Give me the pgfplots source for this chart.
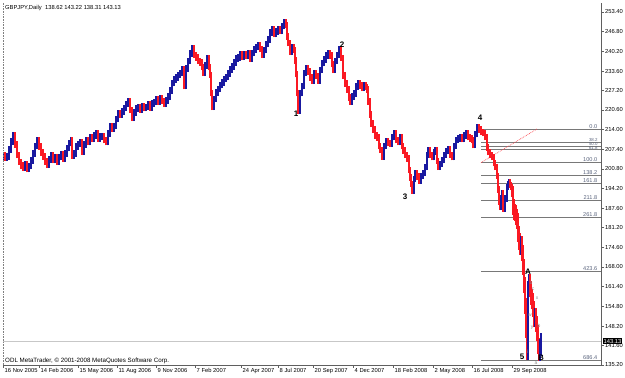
\documentclass[border=0pt]{standalone}
\usepackage{pgfplots}
\pgfplotsset{compat=1.18}
\usepackage{pgfplotstable}
\usepackage{fontspec}
\setmainfont{Liberation Sans}
\definecolor{barblue}{RGB}{25,25,160}
\definecolor{barred}{RGB}{250,25,35}
\definecolor{fibgray}{RGB}{120,120,120}
\definecolor{fibtext}{RGB}{90,100,125}
\definecolor{axgray}{RGB}{95,95,95}

\pgfplotstableread{
x o c
3 205.0 205.5
5 205.5 204.6
7 204.6 205.0
9 205.0 207.3
11 207.3 210.0
13 210.0 212.2
15 212.2 209.0
17 209.0 205.5
19 205.5 203.2
21 203.2 202.0
23 202.0 201.3
25 201.3 202.5
27 202.5 200.8
29 200.8 201.8
31 201.8 203.6
33 203.6 206.0
35 206.0 208.5
37 208.5 210.3
39 210.3 208.3
41 208.3 206.4
43 206.4 205.0
45 205.0 203.4
47 203.4 202.2
49 202.2 204.0
51 204.0 205.3
53 205.3 203.8
55 203.8 204.6
57 204.6 203.4
59 203.4 204.8
61 204.8 205.6
63 205.6 204.2
65 204.2 206.0
67 206.0 207.8
69 207.8 209.5
71 209.5 210.4
72 210.4 205.3
74 205.3 206.0
76 206.0 208.4
78 208.4 209.2
80 209.2 209.8
82 209.8 206.6
84 206.6 209.0
86 209.0 210.5
88 210.5 209.8
90 209.8 211.3
92 211.3 210.8
94 210.8 212.0
96 212.0 212.6
98 212.6 211.0
100 211.0 211.6
102 211.6 211.9
104 211.9 210.5
106 210.5 209.8
108 209.8 212.6
110 212.6 215.0
112 215.0 214.3
114 214.3 215.2
116 215.2 217.5
118 217.5 219.3
120 219.3 219.0
122 219.0 220.0
124 220.0 221.3
126 221.3 222.6
128 222.6 223.6
130 223.6 220.6
132 220.6 217.9
134 217.9 219.8
136 219.8 221.0
138 221.0 221.6
140 221.6 220.7
142 220.7 221.8
144 221.8 221.2
146 221.2 221.6
148 221.6 222.4
150 222.4 221.4
152 221.4 222.8
154 222.8 223.3
156 223.3 224.1
158 224.1 223.4
160 223.4 224.6
162 224.6 223.6
164 223.6 222.6
166 222.6 223.8
168 223.8 225.0
170 225.0 227.0
172 227.0 229.6
174 229.6 230.8
176 230.8 231.4
178 231.4 232.3
180 232.3 233.0
182 233.0 234.1
184 234.1 228.6
186 228.6 234.4
188 234.4 237.0
190 237.0 239.5
192 239.5 241.2
194 241.2 239.0
196 239.0 238.1
198 238.1 237.0
200 237.0 236.5
202 236.5 235.0
203 235.0 233.0
205 233.0 235.5
207 235.5 237.8
209 237.8 235.0
210 235.0 232.3
211 232.3 226.2
212 226.2 221.6
214 221.6 224.3
216 224.3 226.5
218 226.5 227.6
220 227.6 228.9
222 228.9 229.8
224 229.8 231.0
226 231.0 231.6
228 231.6 232.8
230 232.8 234.1
232 234.1 235.2
234 235.2 236.5
236 236.5 237.9
238 237.9 238.1
240 238.1 239.1
242 239.1 238.4
244 238.4 239.3
246 239.3 238.8
248 238.8 239.6
250 239.6 237.8
252 237.8 239.6
254 239.6 240.8
256 240.8 241.6
258 241.6 242.4
260 242.4 241.0
262 241.0 239.2
264 239.2 240.6
266 240.6 242.6
268 242.6 244.2
270 244.2 246.6
272 246.6 247.5
274 247.5 246.0
276 246.0 246.9
278 246.9 247.6
280 247.6 247.0
282 247.0 248.7
284 248.7 250.1
286 250.1 249.0
287 249.0 245.2
288 245.2 243.0
290 243.0 240.0
292 240.0 241.6
294 241.6 240.6
295 240.6 237.2
296 237.2 232.6
297 232.6 226.2
298 226.2 220.4
300 220.4 226.2
302 226.2 228.6
304 228.6 233.0
306 233.0 234.6
308 234.6 233.4
310 233.4 231.5
312 231.5 230.5
314 230.5 233.0
316 233.0 232.0
318 232.0 230.5
320 230.5 234.0
322 234.0 236.3
324 236.3 237.5
326 237.5 238.8
328 238.8 239.6
330 239.6 238.8
332 238.8 236.0
333 236.0 234.0
335 234.0 237.0
337 237.0 239.0
339 239.0 240.8
341 240.8 238.0
343 238.0 232.2
345 232.2 229.5
347 229.5 227.4
349 227.4 224.8
350 224.8 223.4
352 223.4 225.0
354 225.0 226.1
356 226.1 228.5
358 228.5 229.6
360 229.6 228.8
362 228.8 228.0
364 228.0 229.0
366 229.0 228.3
367 228.3 227.4
368 227.4 223.5
370 223.5 219.0
371 219.0 216.0
373 216.0 214.0
375 214.0 212.0
377 212.0 211.3
379 211.3 208.5
380 208.5 207.2
382 207.2 205.0
384 205.0 208.5
386 208.5 210.2
388 210.2 209.5
390 209.5 209.3
392 209.3 211.5
394 211.5 212.6
396 212.6 210.5
398 210.5 209.8
400 209.8 211.3
402 211.3 208.5
403 208.5 207.0
405 207.0 205.5
407 205.5 204.3
409 204.3 200.5
410 200.5 198.0
411 198.0 195.8
412 195.8 193.6
414 193.6 197.5
415 197.5 199.5
417 199.5 198.3
419 198.3 197.0
421 197.0 198.5
423 198.5 199.5
425 199.5 201.5
427 201.5 205.5
428 205.5 207.0
430 207.0 205.5
432 205.5 204.8
434 204.8 206.5
435 206.5 207.2
437 207.2 203.5
438 203.5 201.5
440 201.5 202.5
442 202.5 203.8
444 203.8 205.5
446 205.5 206.8
448 206.8 207.5
450 207.5 205.5
452 205.5 204.8
454 204.8 208.5
456 208.5 210.5
458 210.5 211.0
460 211.0 211.5
462 211.5 210.8
464 210.8 212.0
466 212.0 212.8
468 212.8 211.5
470 211.5 211.0
472 211.0 210.5
473 210.5 208.8
475 208.8 212.5
477 212.5 214.8
479 214.8 214.0
481 214.0 213.2
483 213.2 212.8
485 212.8 211.5
487 211.5 208.0
488 208.0 206.5
490 206.5 205.5
492 205.5 204.8
494 204.8 202.8
495 202.8 201.5
497 201.5 198.5
498 198.5 194.0
499 194.0 190.0
500 190.0 188.1
501 188.1 191.0
502 191.0 192.8
503 192.8 187.5
505 187.5 191.0
507 191.0 194.8
508 194.8 195.8
509 195.8 196.5
510 196.5 195.5
511 195.5 194.8
512 194.8 192.5
513 192.5 188.1
514 188.1 186.5
515 186.5 186.0
516 186.0 184.7
517 184.7 183.5
518 183.5 179.0
519 179.0 176.5
520 176.5 174.7
521 174.7 175.5
522 175.5 172.7
523 172.7 168.0
524 168.0 162.0
525 162.0 155.0
526 155.0 147.0
527 147.0 139.5
528 139.5 160.5
529 160.5 163.0
530 163.0 160.5
531 160.5 158.0
532 158.0 156.5
533 156.5 154.0
534 154.0 150.5
535 150.5 151.5
536 151.5 149.0
537 149.0 145.8
538 145.8 141.5
539 141.5 139.2
540 139.2 141.0
541 141.0 143.1
}\bars
\pgfplotstablecreatecol[create col/expr={min(\thisrow{o},\thisrow{c})-1.1-1.6*(\thisrow{x}>512)}]{lo}\bars
\pgfplotstablecreatecol[create col/expr={abs(\thisrow{c}-\thisrow{o})+2.2+3.2*(\thisrow{x}>512)}]{len}\bars
\pgfplotstablecreatecol[create col/expr={(\thisrow{c}>\thisrow{o})}]{d}\bars

\newcommand{\tf}{\fontsize{5.8}{6.5}\selectfont}
\newcommand{\ff}{\fontsize{5.6}{6}\selectfont}
\newcommand{\fs}{\fontsize{4.4}{5}\selectfont}

\begin{document}
\begin{tikzpicture}
\useasboundingbox (-3pt,-13pt) rectangle (622pt,365pt);
\begin{axis}[
  at={(0pt,0pt)}, anchor=south west,
  width=598pt, height=362pt, scale only axis,
  xmin=3, xmax=601, ymin=135.14, ymax=256.4,
  axis line style={draw=none},
  clip mode=individual,
  tick align=outside,
  major tick length=3pt,
  tick style={axgray, line width=0.5pt},
  ytick pos=right, yticklabel pos=right,
  xtick pos=bottom,
  ytick={135.2,141.6,148.2,154.8,161.4,168.0,174.6,181.2,187.6,194.2,200.8,207.4,214.0,220.6,227.2,233.6,240.2,246.8,253.4},
  yticklabels={135.20,141.60,148.20,154.80,161.40,168.00,174.60,181.20,187.60,194.20,200.80,207.40,214.00,220.60,227.20,233.60,240.20,246.80,253.40},
  yticklabel style={font=\tf, anchor=west, inner sep=0pt, xshift=1pt},
  xtick={3,39,78,117,156,195,241,278,313,353,393,433,472,512},
  xticklabels={16 Nov 2005,14 Feb 2006,15 May 2006,11 Aug 2006,9 Nov 2006,7 Feb 2007,24 Apr 2007,8 Jul 2007,20 Sep 2007,4 Dec 2007,18 Feb 2008,2 May 2008,16 Jul 2008,29 Sep 2008},
  xticklabel style={font=\tf, anchor=north west, inner sep=0pt, xshift=1.5pt},
  colormap={ud}{color=(barred) color=(barblue)},
]
% bid line
\addplot[black!22, line width=0.6pt] coordinates {(3,143.13) (601,143.13)};
% fibonacci levels
\pgfplotsinvokeforeach{214.2,209.89,208.56,207.23,202.92,198.61,195.95,190.31,184.67,166.42,136.77}{
  \addplot[fibgray, line width=0.6pt] coordinates {(481,#1) (601,#1)};
}
\addplot[barred!80, densely dotted, line width=0.7pt] coordinates {(481,202.92) (537,214.2)};
% price bars
\addplot[quiver={u=0, v=\thisrow{len}, colored=mapped color},
  line width=1.5pt, point meta=\thisrow{d}, point meta min=0, point meta max=1]
  table[x=x, y=lo] {\bars};

% frame
\draw[axgray, line width=0.6pt] (rel axis cs:0,0) -- (rel axis cs:1,0) -- (rel axis cs:1,1);
\draw[black!50, densely dotted, line width=0.6pt] (rel axis cs:0,0) -- (rel axis cs:0,1);

% fib labels
\node[font=\ff, text=fibtext, anchor=south east, inner sep=0.6pt] at (axis cs:598,214.2) {0.0};
\node[font=\fs, text=fibtext, anchor=south east, inner sep=0.2pt] at (axis cs:598,209.89) {38.2};
\node[font=\fs, text=fibtext, anchor=south east, inner sep=0.2pt] at (axis cs:598,208.56) {50.0};
\node[font=\fs, text=fibtext, anchor=south east, inner sep=0.2pt] at (axis cs:598,207.23) {61.8};
\node[font=\ff, text=fibtext, anchor=south east, inner sep=0.6pt] at (axis cs:598,202.92) {100.0};
\node[font=\ff, text=fibtext, anchor=south east, inner sep=0.6pt] at (axis cs:598,198.61) {138.2};
\node[font=\ff, text=fibtext, anchor=south east, inner sep=0.6pt] at (axis cs:598,195.95) {161.8};
\node[font=\ff, text=fibtext, anchor=south east, inner sep=0.6pt] at (axis cs:598,190.31) {211.8};
\node[font=\ff, text=fibtext, anchor=south east, inner sep=0.6pt] at (axis cs:598,184.67) {261.8};
\node[font=\ff, text=fibtext, anchor=south east, inner sep=0.6pt] at (axis cs:598,166.42) {423.6};
\node[font=\ff, text=fibtext, anchor=south east, inner sep=0.6pt] at (axis cs:598,136.77) {686.4};
% wave labels
\node[font=\fontsize{8}{8}\selectfont\bfseries] at (axis cs:296,219.2) {1};
\node[font=\fontsize{8}{8}\selectfont\bfseries] at (axis cs:342,242.3) {2};
\node[font=\fontsize{8}{8}\selectfont\bfseries] at (axis cs:405,191.4) {3};
\node[font=\fontsize{8}{8}\selectfont\bfseries] at (axis cs:480,217.9) {4};
\node[font=\fontsize{8}{8}\selectfont\bfseries] at (axis cs:522,137.8) {5};
\node[font=\fontsize{8}{8}\selectfont\bfseries] at (axis cs:528,166.3) {A};
\node[font=\fontsize{8}{8}\selectfont\bfseries] at (axis cs:541,137.5) {B};
\node[font=\fontsize{5}{5}\selectfont, text=black!45] at (axis cs:531,162.6) {b};
\node[font=\fontsize{5}{5}\selectfont, text=black!45] at (axis cs:533,160.4) {c};
\node[font=\fontsize{5}{5}\selectfont, text=black!45] at (axis cs:537,157.6) {x};
\node[font=\fontsize{5}{5}\selectfont, text=black!45] at (axis cs:530,151.9) {w};
\node[font=\fontsize{5}{5}\selectfont, text=black!45] at (axis cs:532,147.5) {y};
\node[font=\fontsize{5}{5}\selectfont, text=black!45] at (axis cs:539,148.3) {b};
\node[font=\fontsize{5}{5}\selectfont, text=black!45] at (axis cs:536,135.8) {a};
\node[font=\fontsize{5}{5}\selectfont, text=black!45] at (axis cs:528,139.6) {i};
% header and footer texts
\node[font=\tf, anchor=north west, inner sep=0pt] at ([xshift=2pt,yshift=-2pt]rel axis cs:0,1) {GBPJPY,Daily\ \ 138.62 143.22 138.31 143.13};
\node[font=\fontsize{6.2}{7}\selectfont, anchor=south west, inner sep=0pt] at ([xshift=2pt,yshift=1.5pt]rel axis cs:0,0) {ODL MetaTrader, © 2001-2008 MetaQuotes Software Corp.};
% current price box
\node[font=\tf, fill=black, text=white, anchor=west, inner sep=1pt] at ([xshift=1.5pt]axis cs:601,143.13) {143.13};
\end{axis}
\end{tikzpicture}
\end{document}
